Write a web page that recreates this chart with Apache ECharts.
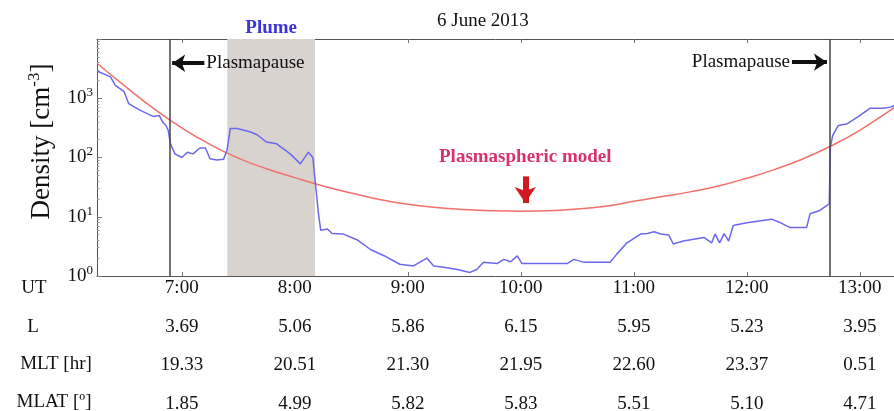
<!DOCTYPE html>
<html>
<head>
<meta charset="utf-8">
<script src="https://cdn.jsdelivr.net/npm/echarts@6/dist/echarts.min.js"></script>
<style>html,body{margin:0;padding:0;background:#fff}#c{width:894px;height:411px}</style>
</head>
<body>
<div id="c"></div>
<script>
// ---- data (UT hours, density cm^-3) ----
const densityTimes = [6.25,6.37,6.41,6.49,6.53,6.63,6.75,6.80,6.83,6.86,6.88,6.90,6.94,7.00,7.05,7.10,7.16,7.21,7.25,7.31,7.37,7.40,7.43,7.49,7.61,7.67,7.75,7.84,7.96,8.05,8.12,8.16,8.18,8.21,8.23,8.29,8.33,8.43,8.55,8.67,8.79,8.93,9.05,9.17,9.23,9.32,9.44,9.55,9.61,9.67,9.79,9.85,9.91,9.97,10.01,10.41,10.47,10.56,10.79,10.85,10.94,11.06,11.12,11.18,11.24,11.31,11.35,11.44,11.62,11.69,11.72,11.76,11.80,11.84,11.88,12.00,12.22,12.30,12.38,12.53,12.56,12.64,12.71,12.73,12.74,12.76,12.81,12.89,12.98,13.09,13.21,13.27,13.31];
const densityValues = [2880,2290,1660,1290,813,631,490,513,398,347,288,170,115,100,123,115,145,145,95,91,93,132,309,309,269,240,182,170,115,78,123,100,41,11.2,5.9,6.2,5.2,5.1,4.1,2.8,2.2,1.58,1.48,2.0,1.48,1.41,1.29,1.15,1.29,1.70,1.62,1.91,1.74,2.19,1.62,1.62,1.91,1.70,1.70,2.34,3.63,5.1,5.2,5.6,5.1,4.9,3.47,3.89,4.47,3.63,5.1,3.63,5.2,3.89,7.1,7.9,9.1,7.9,6.6,6.6,11.2,12.6,15.5,16.6,148,234,347,372,479,676,676,708,760];
const modelTimes = [6.25,6.5,6.75,7.0,7.25,7.5,7.75,8.0,8.25,8.5,8.75,9.0,9.25,9.5,9.75,10.0,10.25,10.5,10.75,11.0,11.25,11.5,11.75,12.0,12.25,12.5,12.75,13.0,13.25,13.31];
const modelValues = [3890,1585,676,316,166,97.7,64.6,45.7,33.1,25.1,19.5,16.2,14.3,13.2,12.6,12.4,12.6,13.5,15.1,18.2,21.9,26.3,33.1,44.7,63.1,95.5,158,288,589,708];
const plasmapauseTimes = [6.89, 12.73];
const plumeRange = [7.403, 8.179];
const tickHours = [7,8,9,10,11,12,13];
const utLabels = ['7:00','8:00','9:00','10:00','11:00','12:00','13:00'];
const lValues = ['3.69','5.06','5.86','6.15','5.95','5.23','3.95'];
const mltValues = ['19.33','20.51','21.30','21.95','22.60','23.37','0.51'];
const mlatValues = ['1.85','4.99','5.82','5.83','5.51','5.10','4.71'];
const rowNames = ['UT','L','MLT [hr]','MLAT [º]'];
const minorTickValues = [2,3,4,5,6,7,8,9,20,30,40,50,60,70,80,90,200,300,400,500,600,700,800,900,2000,3000,4000,5000,6000,7000,8000,9000];

const FF = 'Liberation Serif';
const chart = echarts.init(document.getElementById('c'), null, {renderer:'canvas'});
const xMin = 6.25, xMax = 13.303;

const rowPos = [[34,288],[33,327],[56,364],[54,402]];

chart.setOption({
  animation:false,
  backgroundColor:'#fff',
  title:{text:'6 June 2013', left:432, top:7, textStyle:{fontFamily:FF, fontSize:19, fontWeight:'normal', color:'#111'}},
  grid:{left:97, right:0, top:39, bottom:135, containLabel:false, outerBoundsMode:'none'},
  xAxis:[{
    type:'value', min:xMin, max:xMax, position:'bottom',
    axisLine:{lineStyle:{color:'#555', width:1}},
    axisTick:{inside:true, length:4, lineStyle:{color:'#777'}, customValues:tickHours},
    splitLine:{show:false},
    axisLabel:{
      customValues:tickHours, margin:-7, fontFamily:FF, fontSize:19, color:'#111', lineHeight:38.5,
      formatter:function(v){
        const i = tickHours.indexOf(Math.round(v));
        if(i<0) return '';
        return utLabels[i]+'\n'+lValues[i]+'\n'+mltValues[i]+'\n'+mlatValues[i];
      }
    }
  },{
    type:'value', min:xMin, max:xMax, position:'top',
    axisLine:{lineStyle:{color:'#555', width:1}},
    axisTick:{inside:true, length:4, lineStyle:{color:'#777'}, customValues:tickHours},
    axisLabel:{show:false}, splitLine:{show:false}
  }],
  yAxis:[{
    type:'log', logBase:10, min:1, max:10000,
    axisLine:{show:true, lineStyle:{color:'#555', width:1}},
    axisTick:{inside:true, length:5, lineStyle:{color:'#777'}},
    splitLine:{show:false},
    axisLabel:{
      margin:4, color:'#111',
      formatter:function(v){ const e=Math.round(Math.log10(v)); if(e>3) return ''; return '{b|10}{e|'+e+'}'; },
      rich:{b:{fontFamily:FF, fontSize:19, color:'#111'}, e:{fontFamily:FF, fontSize:13, color:'#111', padding:[0,0,11,0]}}
    },
    name:'{n|Density [cm}{s|-3}{n|]}', nameLocation:'middle', nameGap:39,
    nameTextStyle:{padding:[0,0,0,32], rich:{n:{fontFamily:FF, fontSize:27, color:'#111'}, s:{fontFamily:FF, fontSize:17, color:'#111', padding:[0,0,15,0]}}}
  },{
    type:'log', logBase:10, min:1, max:10000, position:'left',
    axisLine:{show:false}, splitLine:{show:false}, axisLabel:{show:false},
    axisTick:{show:true, inside:true, length:2.5, lineStyle:{color:'#999'}, customValues:minorTickValues}
  }],
  graphic: rowNames.map((t,i)=>({type:'text', style:{x:rowPos[i][0], y:rowPos[i][1], text:t, textAlign:'center', textVerticalAlign:'middle', font:'19px "Liberation Serif"', fill:'#111'}})),
  series:[
    {
      type:'line', name:'model', data:modelTimes.map((t,i)=>[t,modelValues[i]]),
      smooth:true, showSymbol:false, symbol:'none', lineStyle:{color:'#f2706a', width:1.5}, z:3,
      markArea:{silent:true, itemStyle:{color:'#d9d3d0'},
        label:{show:true, position:'top', distance:1, formatter:'Plume', fontFamily:FF, fontSize:19, fontWeight:'bold', color:'#3a34e0'},
        data:[[{xAxis:plumeRange[0]},{xAxis:plumeRange[1]}]]}
    },
    {
      type:'line', name:'density', data:densityTimes.map((t,i)=>[t,densityValues[i]]),
      showSymbol:false, symbol:'none', lineStyle:{color:'#6c68ee', width:1.5}, z:4,
      markLine:{silent:true, symbol:'none', label:{show:false}, lineStyle:{color:'#444', width:1.5, type:'solid'},
        data:plasmapauseTimes.map(t=>({xAxis:t}))}
    },
    {
      type:'line', data:[], z:5,
      markLine:{silent:true, symbol:['none','arrow'], symbolSize:13,
        lineStyle:{color:'#111', width:4, type:'solid'},
        label:{show:true, position:'start', distance:2, formatter:'Plasmapause', fontFamily:FF, fontSize:19, color:'#111'},
        data:[
          [{coord:[7.20,3900]},{coord:[6.915,3900]}],
          [{coord:[12.40,4070]},{coord:[12.71,4070]}]
        ]}
    },
    {
      type:'line', data:[], z:5,
      markLine:{silent:true, symbol:['none','arrow'], symbolSize:16,
        lineStyle:{color:'#d01a22', width:6, type:'solid'},
        label:{show:true, position:'start', distance:10, formatter:'Plasmaspheric model', fontFamily:FF, fontSize:19, fontWeight:'bold', color:'#d8336a'},
        data:[[{coord:[10.04,48]},{coord:[10.04,17]}]]}
    }
  ]
});
</script>
</body>
</html>
